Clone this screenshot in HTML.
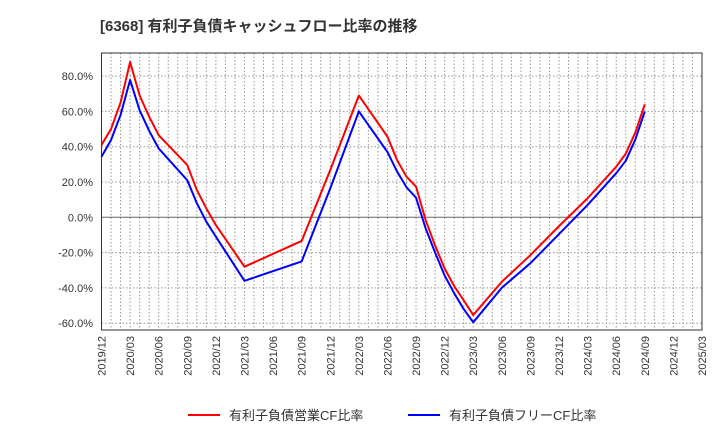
<!DOCTYPE html>
<html><head><meta charset="utf-8"><style>
body{margin:0;background:#fff;font-family:"Liberation Sans","Noto Sans CJK JP",sans-serif}
svg text{font-family:"Liberation Sans","Noto Sans CJK JP",sans-serif}
</style></head><body>
<svg id="c" width="720" height="440">
<text x="100" y="31" font-size="15" font-weight="bold" fill="#333">[6368]  有利子負債キャッシュフロー比率の推移</text>
<g id="grid"></g><g id="axes"></g><g id="series"></g>
<g>
<line x1="188" y1="415" x2="220" y2="415" stroke="#f00" stroke-width="2"/>
<text x="229" y="420" font-size="13" fill="#333">有利子負債営業CF比率</text>
<line x1="408" y1="415" x2="440" y2="415" stroke="#00f" stroke-width="2"/>
<text x="449" y="420" font-size="13" fill="#333">有利子負債フリーCF比率</text>
</g>
</svg>
<script>
const redDates=["2019/12","2020/01","2020/02","2020/03","2020/04","2020/05","2020/06","2020/09","2020/10","2020/11","2020/12","2021/03","2021/09","2021/12","2022/03","2022/06","2022/07","2022/08","2022/09","2022/10","2022/11","2022/12","2023/01","2023/02","2023/03","2023/06","2023/09","2023/12","2024/03","2024/06","2024/07","2024/08","2024/09"];
const redValues=[41,50,65,88,69,57,46.5,29.6,15.5,5,-4.4,-28,-13.4,26.8,69,45.7,32.5,23,17.4,-1.5,-16,-29,-39,-47,-55.4,-36.5,-21.4,-5,10.8,28.7,36,48,64];
const blueValues=[34.3,43.8,58,77.8,60.6,49,39,21,8,-2.5,-11,-36,-25,16.4,60,37,26,17,11.1,-6.2,-20,-33,-43,-52,-59.5,-39.9,-26,-9.5,7,25,32,44,60];
const xTicks=["2019/12","2020/03","2020/06","2020/09","2020/12","2021/03","2021/06","2021/09","2021/12","2022/03","2022/06","2022/09","2022/12","2023/03","2023/06","2023/09","2023/12","2024/03","2024/06","2024/09","2024/12","2025/03"];
const yTicks=[-60,-40,-20,0,20,40,60,80];
const L=101.5,R=702,T=53,B=330;
const mi=s=>{const[y,m]=s.split("/").map(Number);return (y-2019)*12+m-12;};
const X=m=>L+(R-L)*m/63;
const Y=v=>217.3-v*1.765;
const NS="http://www.w3.org/2000/svg";
function el(p,t,a){const e=document.createElementNS(NS,t);for(const k in a)e.setAttribute(k,a[k]);p.appendChild(e);return e;}
const grid=document.getElementById("grid"),axes=document.getElementById("axes"),ser=document.getElementById("series");
for(let m=1;m<63;m++){const l=el(grid,"line",{x1:X(m),x2:X(m),y1:T,y2:B,stroke:"#999","stroke-dasharray":"1.5,2","stroke-width":1});

}
yTicks.forEach(v=>{const l=el(grid,"line",{x1:L,x2:R,y1:Y(v),y2:Y(v),stroke:v===0?"#666":"#999","stroke-dasharray":v===0?"":"1.5,2","stroke-width":1});


const t=el(axes,"text",{x:93,y:Y(v)+4,"text-anchor":"end","font-size":11,fill:"#333"});t.textContent=v.toFixed(1)+"%";

});
xTicks.forEach(s=>{const x=X(mi(s));const t=el(axes,"text",{transform:`translate(${x+4},336) rotate(-90)`,"text-anchor":"end","font-size":11,fill:"#333"});t.textContent=s;

});
const f=el(axes,"rect",{x:L,y:T,width:R-L,height:B-T,fill:"none",stroke:"#333","stroke-width":1});


function line(vals,col,name){const p=el(ser,"polyline",{points:redDates.map((d,i)=>X(mi(d))+","+Y(vals[i])).join(" "),fill:"none",stroke:col,"stroke-width":2,"stroke-linejoin":"round"});

}
line(blueValues,"#00f","free-cf-ratio-line");
line(redValues,"#f00","operating-cf-ratio-line");
</script>
</body></html>
